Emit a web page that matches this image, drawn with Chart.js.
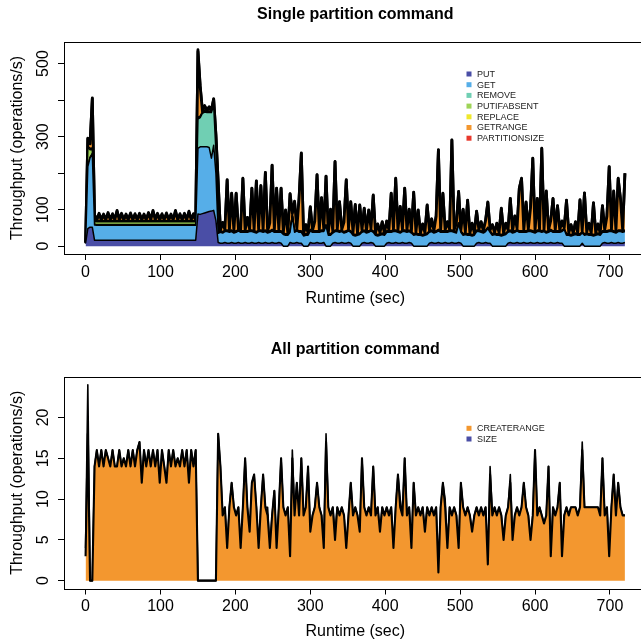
<!DOCTYPE html>
<html>
<head>
<meta charset="utf-8">
<script src="https://cdn.jsdelivr.net/npm/chart.js@4/dist/chart.umd.min.js"></script>
<style>
  html, body { margin: 0; padding: 0; background: #fff; width: 641px; height: 643px; overflow: hidden; }
  .panel { position: absolute; left: 0; width: 660px; }
</style>
</head>
<body>
<div class="panel" style="top:0;height:320px"><canvas id="single"></canvas></div>
<div class="panel" style="top:320px;height:323px"><canvas id="all"></canvas></div>
<script>
// sample times (sec), one sample every 3 s
const seconds = [];
for (let s = 0; s <= 720; s += 3) seconds.push(s);

// ---- Single partition command (ops/s) ----
const putOps = [
  8, 48, 52, 52, 16,
  16, 16, 16, 16, 16, 16, 16, 16, 16, 16, 16, 16, 16, 16, 16,
  16, 16, 16, 16, 16, 16, 16, 16, 16, 16, 16, 16, 16, 16, 16,
  16, 16, 16, 16, 16, 16, 16, 16, 16, 16, 16, 16, 16, 16, 16,
  88, 87, 89, 91, 93, 95, 96, 98, 70,
  10, 8, 8, 10, 8, 8, 10, 8, 8, 10,
  8, 8, 10, 8, 8, 10, 8, 8, 10, 8,
  8, 10, 8, 8, 10, 8, 8, 10, 8, 0,
  0, 0, 10, 8, 8, 10, 8, 8, 0, 0,
  0, 10, 8, 8, 10, 8, 8, 10, 0, 0,
  0, 8, 10, 8, 8, 10, 8, 8, 10, 8,
  0, 0, 0, 0, 8, 10, 8, 8, 10, 8,
  0, 0, 0, 0, 0, 8, 10, 8, 8, 10,
  8, 8, 10, 8, 8, 10, 8, 0, 0, 0,
  0, 0, 0, 0, 8, 10, 8, 8, 10, 8,
  8, 10, 8, 8, 10, 8, 8, 10, 8, 0,
  0, 0, 0, 0, 0, 8, 10, 8, 8, 10,
  8, 8, 0, 0, 0, 0, 0, 0, 0, 8,
  10, 8, 8, 10, 8, 8, 10, 8, 8, 10,
  8, 8, 10, 8, 8, 10, 8, 8, 10, 8,
  8, 10, 8, 8, 0, 0, 0, 0, 0, 0,
  0, 0, 8, 0, 0, 0, 0, 0, 0, 0,
  0, 8, 10, 8, 8, 10, 8, 8, 10, 8,
  8, 10
];
const getOps = [
  0, 170, 190, 200, 42,
  41, 41, 41, 41, 41, 41, 41, 41, 41, 41, 41, 41, 41, 41, 41,
  41, 41, 41, 41, 41, 41, 41, 41, 41, 41, 41, 41, 41, 41, 41,
  41, 41, 41, 41, 41, 41, 41, 41, 41, 41, 41, 41, 41, 41, 41,
  180, 185, 183, 181, 179, 175, 145, 178, 130,
  25, 30, 28, 30, 32, 30, 30, 28, 30, 32,
  30, 30, 28, 30, 32, 30, 30, 28, 30, 32,
  30, 30, 28, 30, 32, 30, 30, 28, 30, 32,
  30, 30, 28, 75, 30, 32, 30, 30, 28, 30,
  30, 32, 30, 30, 28, 30, 32, 30, 55, 30,
  30, 28, 30, 32, 30, 30, 28, 30, 32, 30,
  30, 28, 30, 32, 30, 30, 28, 30, 32, 30,
  30, 28, 30, 32, 30, 30, 28, 30, 32, 30,
  30, 28, 30, 32, 30, 30, 28, 30, 32, 30,
  30, 28, 30, 32, 30, 30, 28, 30, 32, 30,
  30, 28, 30, 32, 30, 30, 28, 50, 30, 30,
  32, 30, 30, 28, 30, 32, 30, 30, 28, 30,
  40, 30, 30, 32, 30, 30, 28, 30, 32, 30,
  30, 28, 30, 32, 30, 30, 28, 30, 32, 30,
  30, 28, 30, 32, 30, 30, 28, 30, 32, 30,
  30, 28, 30, 32, 45, 30, 30, 28, 30, 32,
  30, 30, 28, 30, 32, 30, 30, 28, 30, 32,
  30, 30, 28, 30, 32, 30, 30, 28, 30, 32,
  30, 30
];
const removeOps = [
  0, 2, 2, 2, 2,
  2, 2, 2, 2, 2, 2, 2, 2, 2, 2, 2, 2, 2, 2, 2,
  2, 2, 2, 2, 2, 2, 2, 2, 2, 2, 2, 2, 2, 2, 2,
  2, 2, 2, 2, 2, 2, 2, 2, 2, 2, 2, 2, 2, 2, 2,
  80, 80, 92, 95, 94, 96, 125, 110, 60,
  1, 1, 1, 1, 1, 1, 1, 1, 1, 1, 1, 1, 1, 1, 1, 1, 1, 1, 1, 1,
  1, 1, 1, 1, 1, 1, 1, 1, 1, 1, 1, 1, 1, 1, 1, 1, 1, 1, 1, 1,
  1, 1, 1, 1, 1, 1, 1, 1, 1, 1, 1, 1, 1, 1, 1, 1, 1, 1, 1, 1,
  1, 1, 1, 1, 1, 1, 1, 1, 1, 1, 1, 1, 1, 1, 1, 1, 1, 1, 1, 1,
  1, 1, 1, 1, 1, 1, 1, 1, 1, 1, 1, 1, 1, 1, 1, 1, 1, 1, 1, 1,
  1, 1, 1, 1, 1, 1, 1, 1, 1, 1, 1, 1, 1, 1, 1, 1, 1, 1, 1, 1,
  1, 1, 1, 1, 1, 1, 1, 1, 1, 1, 1, 1, 1, 1, 1, 1, 1, 1, 1, 1,
  1, 1, 1, 1, 1, 1, 1, 1, 1, 1, 1, 1, 1, 1, 1, 1, 1, 1, 1, 1,
  1, 1, 1, 1, 1, 1, 1, 1, 1, 1, 1, 1, 1, 1, 1, 1, 1, 1, 1, 1,
  1, 1
];
const putIfAbsentOps = [
  0, 50, 20, 10, 8,
  8, 8, 8, 8, 8, 8, 8, 8, 8, 8, 8, 8, 8, 8, 8,
  8, 8, 8, 8, 8, 8, 8, 8, 8, 8, 8, 8, 8, 8, 8,
  8, 8, 8, 8, 8, 8, 8, 8, 8, 8, 8, 8, 8, 8, 8,
  3, 2, 2, 2, 2, 2, 2, 2, 2,
  1, 1, 1, 1, 1, 1, 1, 1, 1, 1, 1, 1, 1, 1, 1, 1, 1, 1, 1, 1,
  1, 1, 1, 1, 1, 1, 1, 1, 1, 1, 1, 1, 1, 1, 1, 1, 1, 1, 1, 1,
  1, 1, 1, 1, 1, 1, 1, 1, 1, 1, 1, 1, 1, 1, 1, 1, 1, 1, 1, 1,
  1, 1, 1, 1, 1, 1, 1, 1, 1, 1, 1, 1, 1, 1, 1, 1, 1, 1, 1, 1,
  1, 1, 1, 1, 1, 1, 1, 1, 1, 1, 1, 1, 1, 1, 1, 1, 1, 1, 1, 1,
  1, 1, 1, 1, 1, 1, 1, 1, 1, 1, 1, 1, 1, 1, 1, 1, 1, 1, 1, 1,
  1, 1, 1, 1, 1, 1, 1, 1, 1, 1, 1, 1, 1, 1, 1, 1, 1, 1, 1, 1,
  1, 1, 1, 1, 1, 1, 1, 1, 1, 1, 1, 1, 1, 1, 1, 1, 1, 1, 1, 1,
  1, 1, 1, 1, 1, 1, 1, 1, 1, 1, 1, 1, 1, 1, 1, 1, 1, 1, 1, 1,
  1, 1
];
const replaceOps = [
  0, 4, 4, 5, 3,
  3, 3, 3, 3, 3, 3, 3, 3, 3, 3, 3, 3, 3, 3, 3,
  3, 3, 3, 3, 3, 3, 3, 3, 3, 3, 3, 3, 3, 3, 3,
  3, 3, 3, 3, 3, 3, 3, 3, 3, 3, 3, 3, 3, 3, 3,
  2, 2, 2, 2, 2, 2, 2, 2, 2,
  2, 2, 2, 2, 2, 2, 2, 2, 2, 2, 2, 2, 2, 2, 2, 2, 2, 2, 2, 2,
  2, 2, 2, 2, 2, 2, 2, 2, 2, 2, 2, 2, 2, 2, 2, 2, 2, 2, 2, 2,
  2, 2, 2, 2, 2, 2, 2, 2, 2, 2, 2, 2, 2, 2, 2, 2, 2, 2, 2, 2,
  2, 2, 2, 2, 2, 2, 2, 2, 2, 2, 2, 2, 2, 2, 2, 2, 2, 2, 2, 2,
  2, 2, 2, 2, 2, 2, 2, 2, 2, 2, 2, 2, 2, 2, 2, 2, 2, 2, 2, 2,
  2, 2, 2, 2, 2, 2, 2, 2, 2, 2, 2, 2, 2, 2, 2, 2, 2, 2, 2, 2,
  2, 2, 2, 2, 2, 2, 2, 2, 2, 2, 2, 2, 2, 2, 2, 2, 2, 2, 2, 2,
  2, 2, 2, 2, 2, 2, 2, 2, 2, 2, 2, 2, 2, 2, 2, 2, 2, 2, 2, 2,
  2, 2, 2, 2, 2, 2, 2, 2, 2, 2, 2, 2, 2, 2, 2, 2, 2, 2, 2, 2,
  2, 2
];
const getRangeOps = [
  2, 20, 12, 135, 14,
  2, 17, 2, 15, 2, 19, 2, 16, 2, 25, 2, 17, 2, 15, 2,
  18, 2, 16, 2, 17, 2, 15, 2, 19, 2, 25, 2, 17, 2, 16,
  2, 18, 2, 15, 2, 25, 2, 16, 2, 17, 2, 23, 2, 16, 2,
  180, 80, 1, 12, 1, 10, 1, 12, 40,
  137, 1, 24, 1, 137, 2, 100, 1, 102, 1,
  2, 143, 1, 36, 2, 114, 1, 138, 2, 121,
  2, 157, 1, 22, 175, 1, 116, 2, 116, 1,
  64, 1, 101, 2, 80, 1, 88, 212, 1, 24,
  2, 61, 1, 26, 153, 2, 88, 1, 132, 1,
  66, 1, 187, 2, 79, 1, 26, 139, 1, 79,
  2, 81, 1, 76, 2, 59, 1, 56, 2, 97,
  1, 28, 2, 30, 1, 26, 2, 102, 1, 141,
  2, 68, 1, 114, 2, 56, 1, 113, 2, 64,
  1, 28, 2, 76, 1, 30, 2, 40, 217, 1,
  102, 2, 24, 1, 246, 2, 22, 85, 1, 66,
  2, 91, 1, 30, 2, 51, 1, 24, 2, 26,
  68, 2, 24, 1, 28, 2, 71, 1, 26, 2,
  86, 1, 40, 2, 116, 143, 1, 78, 2, 60,
  198, 1, 86, 2, 225, 1, 110, 2, 24, 88,
  1, 68, 2, 24, 1, 91, 2, 26, 1, 30,
  2, 92, 1, 111, 2, 28, 1, 86, 2, 24,
  1, 68, 2, 40, 173, 1, 108, 2, 141, 86,
  1, 155
];
const partitionSizeOps = [
  0, 2, 2, 2, 1,
  1, 3, 1, 3, 1, 3, 1, 3, 1, 3, 1, 3, 1, 3, 1,
  3, 1, 3, 1, 3, 1, 3, 1, 3, 1, 3, 1, 3, 1, 3,
  1, 3, 1, 3, 1, 3, 1, 3, 1, 3, 1, 3, 1, 3, 1,
  5, 4, 2, 2, 2, 2, 2, 2, 2,
  1, 1, 1, 1, 1, 1, 1, 1, 1, 1, 1, 1, 1, 1, 1, 1, 1, 1, 1, 1,
  1, 1, 1, 1, 1, 1, 1, 1, 1, 1, 1, 1, 1, 1, 1, 1, 1, 1, 1, 1,
  1, 1, 1, 1, 1, 1, 1, 1, 1, 1, 1, 1, 1, 1, 1, 1, 1, 1, 1, 1,
  1, 1, 1, 1, 1, 1, 1, 1, 1, 1, 1, 1, 1, 1, 1, 1, 1, 1, 1, 1,
  1, 1, 1, 1, 1, 1, 1, 1, 1, 1, 1, 1, 1, 1, 1, 1, 1, 1, 1, 1,
  1, 1, 1, 1, 1, 1, 1, 1, 1, 1, 1, 1, 1, 1, 1, 1, 1, 1, 1, 1,
  1, 1, 1, 1, 1, 1, 1, 1, 1, 1, 1, 1, 1, 1, 1, 1, 1, 1, 1, 1,
  1, 1, 1, 1, 1, 1, 1, 1, 1, 1, 1, 1, 1, 1, 1, 1, 1, 1, 1, 1,
  1, 1, 1, 1, 1, 1, 1, 1, 1, 1, 1, 1, 1, 1, 1, 1, 1, 1, 1, 1,
  1, 1
];

// ---- All partition command (ops/s) ----
const createRangeOps = [
  3, 18, 0, 0, 14, 16, 14, 16, 14, 16,
  15, 14, 16, 14, 14, 16, 14, 15, 14, 16,
  14, 16, 14, 16, 17, 12, 16, 14, 16, 14,
  16, 14, 16, 12, 16, 14, 12, 16, 14, 16,
  14, 15, 14, 16, 14, 16, 12, 16, 14, 16,
  0, 0, 0, 0, 0, 0, 0, 0, 0, 18,
  14, 8, 9, 4, 9, 12, 9, 8, 9, 4,
  9, 15, 9, 6, 12, 13, 9, 4, 9, 13,
  9, 8, 4, 8, 11, 4, 9, 15, 9, 8,
  9, 3, 15, 8, 12, 8, 15, 8, 9, 14,
  6, 8, 9, 12, 9, 8, 4, 17, 9, 8,
  9, 5, 9, 8, 9, 8, 4, 8, 12, 8,
  9, 8, 6, 15, 9, 8, 9, 8, 14, 8,
  9, 6, 9, 8, 9, 8, 9, 4, 9, 13,
  9, 8, 15, 8, 9, 4, 12, 8, 9, 8,
  9, 6, 9, 8, 9, 8, 9, 1, 9, 12,
  9, 4, 9, 8, 9, 8, 4, 12, 9, 8,
  9, 8, 6, 8, 9, 8, 9, 8, 9, 2,
  13, 8, 9, 8, 9, 8, 5, 8, 9, 12,
  5, 8, 9, 8, 9, 12, 9, 8, 5, 8,
  16, 8, 9, 8, 7, 8, 14, 3, 9, 8,
  9, 12, 3, 8, 9, 8, 9, 9, 9, 8,
  9, 16, 9, 9, 9, 9, 9, 9, 9, 8,
  15, 8, 9, 3, 9, 13, 8, 12, 9, 8,
  8
];
const sizeOps = [
  1, 6, 0, 0, 0, 0, 0, 0, 0, 0,
  0, 0, 0, 0, 0, 0, 0, 0, 0, 0,
  0, 0, 0, 0, 0, 0, 0, 0, 0, 0,
  0, 0, 0, 0, 0, 0, 0, 0, 0, 0,
  0, 0, 0, 0, 0, 0, 0, 0, 0, 0,
  0, 0, 0, 0, 0, 0, 0, 0, 0, 0,
  0, 0, 0, 0, 0, 0, 0, 0, 0, 0,
  0, 0, 0, 0, 0, 0, 0, 0, 0, 0,
  0, 1, 0, 0, 0, 0, 0, 0, 0, 0,
  0, 0, 1, 0, 0, 0, 0, 0, 0, 0,
  0, 0, 0, 0, 0, 0, 0, 1, 0, 0,
  0, 1, 0, 0, 0, 0, 0, 0, 0, 0,
  0, 0, 0, 0, 0, 0, 0, 0, 0, 0,
  0, 0, 0, 0, 0, 0, 0, 0, 0, 0,
  1, 0, 0, 0, 0, 0, 0, 0, 0, 0,
  0, 0, 0, 0, 0, 0, 0, 0, 0, 0,
  1, 0, 0, 0, 0, 0, 0, 0, 0, 0,
  0, 0, 0, 0, 0, 0, 0, 0, 0, 0,
  1, 0, 0, 0, 0, 0, 0, 0, 0, 1,
  0, 0, 0, 0, 0, 0, 0, 0, 0, 0,
  0, 0, 0, 0, 0, 0, 0, 0, 0, 0,
  0, 0, 0, 0, 0, 0, 0, 0, 0, 0,
  0, 1, 0, 0, 0, 0, 0, 0, 0, 0,
  0, 0, 0, 0, 0, 0, 0, 0, 0, 0,
  0
];

const xTicksStep = 100;
const yLabelsSingle = [0, 100, 300, 500];
const yLabelsAll = [0, 5, 10, 15, 20];

const FONT = '"Liberation Sans", Arial, Helvetica, sans-serif';
Chart.defaults.font.family = FONT;
Chart.defaults.color = '#000';

// box around the plot, rotated y labels and the inset legend (R style)
const rDecor = {
  id: 'rDecor',
  afterDraw(chart, args, opts) {
    const ctx = chart.ctx;
    const a = chart.chartArea;
    const y = chart.scales.y;
    ctx.save();
    ctx.strokeStyle = '#000';
    ctx.lineWidth = 1;
    ctx.strokeRect(Math.round(a.left) + 0.5, Math.round(a.top) + 0.5,
      Math.round(a.right - a.left), Math.round(a.bottom - a.top));

    ctx.fillStyle = '#000';
    ctx.font = '16px ' + FONT;
    ctx.textAlign = 'center';
    ctx.textBaseline = 'middle';
    opts.yLabels.forEach(v => {
      ctx.save();
      ctx.translate(opts.labelX, y.getPixelForValue(v));
      ctx.rotate(-Math.PI / 2);
      ctx.fillText(String(v), 0, 0);
      ctx.restore();
    });

    ctx.font = '9px ' + FONT;
    ctx.textAlign = 'left';
    chart.data.datasets.forEach((ds, k) => {
      const ly = a.top + opts.legendTop + k * opts.legendRow;
      ctx.fillStyle = ds.backgroundColor;
      ctx.fillRect(opts.legendX - 2.5, ly - 2.5, 5, 5);
      ctx.fillStyle = '#222';
      ctx.fillText(ds.label, opts.legendX + 8, ly + 0.5);
    });
    ctx.restore();
  }
};

function makeDatasets(series) {
  return series.map(([label, values, color, width], k) => ({
    label: label,
    data: seconds.map((s, i) => ({ x: s, y: values[i] })),
    backgroundColor: color,
    borderColor: '#000',
    borderWidth: width,
    borderJoinStyle: 'round',
    fill: k === 0 ? 'origin' : '-1',
    pointRadius: 0,
    tension: 0
  }));
}

function drawChart(id, title, series, yMin, yMax, yStep, yLabels, lay) {
  return new Chart(id, {
    type: 'line',
    data: { datasets: makeDatasets(series) },
    plugins: [rDecor],
    options: {
      responsive: true,
      maintainAspectRatio: false,
      animation: false,
      layout: { padding: { left: 0, right: 13.5, top: 0, bottom: 0 } },
      plugins: {
        legend: { display: false },
        tooltip: { enabled: false },
        title: {
          display: true,
          text: title,
          fullSize: false,
          color: '#000',
          font: { size: 16, weight: 'bold' },
          padding: { top: lay.titleTop, bottom: lay.titleBottom }
        },
        rDecor: { yLabels: yLabels, labelX: 44, legendX: 469, legendTop: lay.legendTop, legendRow: 10.7 }
      },
      scales: {
        x: {
          type: 'linear',
          min: -28.8,
          max: 748.8,
          border: { display: false },
          grid: { drawOnChartArea: false, drawTicks: true, tickLength: 6, color: '#000' },
          ticks: { stepSize: xTicksStep, includeBounds: false, autoSkip: false, maxRotation: 0,
                   padding: lay.tickPad, color: '#000', font: { size: 16 } },
          title: { display: true, text: 'Runtime (sec)', color: '#000', font: { size: 16 },
                   padding: { top: 0, bottom: lay.xTitleBottom } },
          afterFit: s => { s.height = lay.xHeight; }
        },
        y: {
          stacked: true,
          min: yMin,
          max: yMax,
          border: { display: false },
          grid: { drawOnChartArea: false, drawTicks: true, tickLength: 6, color: '#000' },
          ticks: { stepSize: yStep, includeBounds: false, display: false },
          title: { display: true, text: 'Throughput (operations/s)', color: '#000', font: { size: 16 },
                   padding: { top: 8.4, bottom: 0 } },
          afterFit: s => { s.width = 64; }
        }
      }
    }
  });
}

drawChart('single', 'Single partition command', [
  ['PUT', putOps, '#4a4ea6', 1.5],
  ['GET', getOps, '#56aee8', 1.5],
  ['REMOVE', removeOps, '#70cfb3', 1.5],
  ['PUTIFABSENT', putIfAbsentOps, '#9ed457', 1.5],
  ['REPLACE', replaceOps, '#efe82c', 1.5],
  ['GETRANGE', getRangeOps, '#f3972f', 2.8],
  ['PARTITIONSIZE', partitionSizeOps, '#e8382c', 2.8]
], -21.5, 559, 100, yLabelsSingle,
  { titleTop: 5.4, titleBottom: 17.4, xHeight: 66, tickPad: 3.4, xTitleBottom: 11.4, legendTop: 32 });

drawChart('all', 'All partition command', [
  ['CREATERANGE', createRangeOps, '#f3972f', 2.1],
  ['SIZE', sizeOps, '#4a4ea6', 1.6]
], -0.96, 24.96, 5, yLabelsAll,
  { titleTop: 20.4, titleBottom: 17.4, xHeight: 54.5, tickPad: 2.9, xTitleBottom: 1.4, legendTop: 51.3 });
</script>
</body>
</html>
